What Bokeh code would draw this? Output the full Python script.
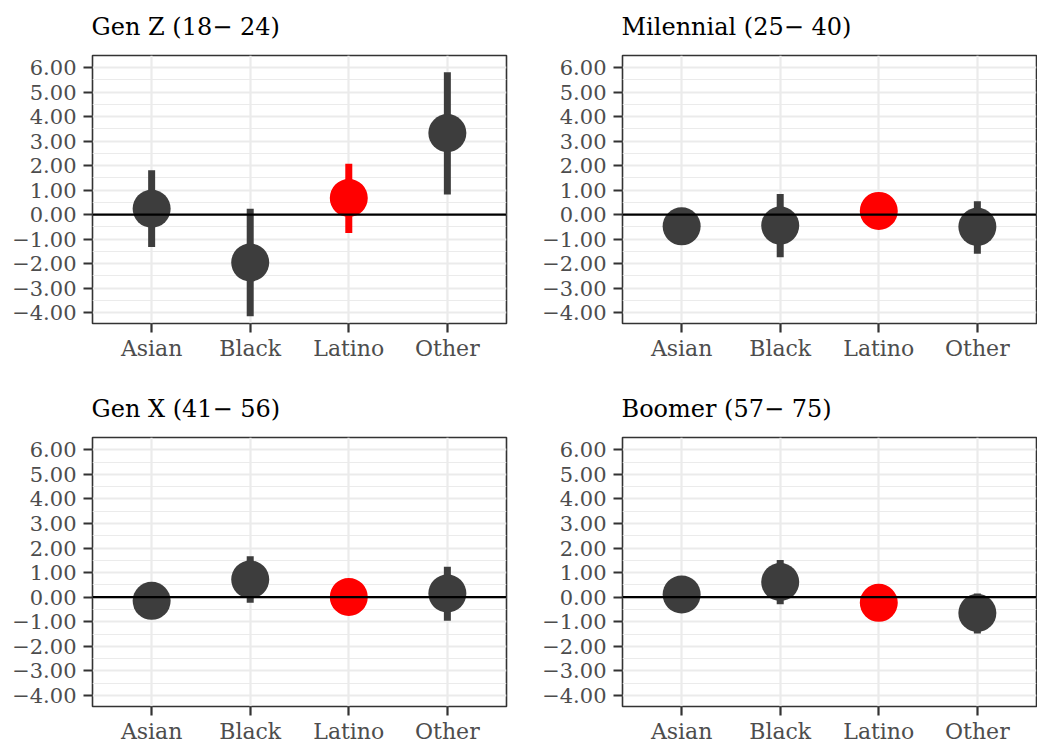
from bokeh.plotting import figure
from bokeh.layouts import gridplot
from bokeh.models import FactorRange, Range1d, FixedTicker, Span, ColumnDataSource
from bokeh.embed import file_html
from bokeh.resources import INLINE

categories = ["Asian", "Black", "Latino", "Other"]
titles = ["Gen Z (18\u2212 24)", "Milennial (25\u2212 40)", "Gen X (41\u2212 56)", "Boomer (57\u2212 75)"]

est_genz = [0.24, -1.96, 0.68, 3.33]
lo_genz = [-1.32, -4.15, -0.75, 0.82]
hi_genz = [1.81, 0.24, 2.08, 5.82]

est_mill = [-0.48, -0.45, 0.15, -0.50]
lo_mill = [-1.05, -1.74, -0.45, -1.60]
hi_mill = [0.10, 0.84, 0.70, 0.54]

est_genx = [-0.15, 0.72, 0.01, 0.15]
lo_genx = [-0.75, -0.23, -0.55, -0.96]
hi_genx = [0.45, 1.67, 0.55, 1.24]

est_boom = [0.11, 0.62, -0.23, -0.64]
lo_boom = [-0.50, -0.29, -0.80, -1.48]
hi_boom = [0.70, 1.51, 0.35, 0.15]

y_ticks = [-4, -3, -2, -1, 0, 1, 2, 3, 4, 5, 6]
y_minor = [-3.5, -2.5, -1.5, -0.5, 0.5, 1.5, 2.5, 3.5, 4.5, 5.5]
y_labels = {t: ("\u2212" + f"{abs(t):.2f}" if t < 0 else f"{t:.2f}") for t in y_ticks}

DARK = "#3d3d3d"
RED = "#ff0000"
FONT = "DejaVu Serif"

series = [
    (est_genz, lo_genz, hi_genz),
    (est_mill, lo_mill, hi_mill),
    (est_genx, lo_genx, hi_genx),
    (est_boom, lo_boom, hi_boom),
]

layout_cfg = [
    # (left, right, top, bottom, plot_w, plot_h)
    (92, 14, 55, 57, 414, 268),
    (102, 1, 55, 57, 414, 268),
    (92, 14, 57, 44, 414, 269),
    (102, 1, 57, 44, 414, 269),
]

figs = []
for i, ((est, lo, hi), title) in enumerate(zip(series, titles)):
    l, r, t, b, pw, ph = layout_cfg[i]
    p = figure(
        x_range=FactorRange(factors=categories, range_padding=0.1, range_padding_units="absolute"),
        y_range=Range1d(-4.45, 6.5),
        width=l + pw + r, height=t + ph + b,
        min_border_left=l, min_border_right=r, min_border_top=t, min_border_bottom=b,
        output_backend="svg", toolbar_location=None, title=title,
    )
    p.title.text_font = FONT
    p.title.text_font_size = "24px"
    p.title.text_font_style = "normal"
    p.title.text_color = "#000000"
    p.title.offset = -1
    p.title.vertical_align = "top"
    p.title.standoff = 25

    colors = [RED if c == "Latino" else DARK for c in categories]
    src = ColumnDataSource(dict(x=categories, est=est, lo=lo, hi=hi, color=colors))

    p.segment(x0="x", y0="lo", x1="x", y1="hi", source=src, line_color="color",
              line_width=7, line_cap="butt")
    p.scatter(x="x", y="est", source=src, size=38, fill_color="color", line_color=None)
    p.add_layout(Span(location=0, dimension="width", line_color="black", line_width=2.2))

    p.background_fill_color = "white"
    p.border_fill_color = "white"
    p.outline_line_color = "#333333"
    p.outline_line_width = 1.6

    p.yaxis.ticker = FixedTicker(ticks=y_ticks, minor_ticks=y_minor)
    p.yaxis.major_label_overrides = y_labels
    for ax in (p.xaxis[0], p.yaxis[0]):
        ax.axis_line_color = None
        ax.major_tick_line_color = "#333333"
        ax.major_tick_line_width = 2.2
        ax.major_tick_out = 9
        ax.major_tick_in = 0
        ax.minor_tick_line_color = None
        ax.major_label_text_font = FONT
        ax.major_label_text_color = "#4d4d4d"
    p.yaxis.major_label_text_font_size = "21px"
    p.xaxis.major_label_text_font_size = "22px"
    p.yaxis.major_label_standoff = 7
    p.xaxis.major_label_standoff = 3

    p.ygrid.grid_line_color = "#ebebeb"
    p.ygrid.grid_line_width = 2.2
    p.ygrid.minor_grid_line_color = "#ebebeb"
    p.ygrid.minor_grid_line_width = 1.2
    p.xgrid.grid_line_color = "#ebebeb"
    p.xgrid.grid_line_width = 2.2
    figs.append(p)

grid = gridplot([[figs[0], figs[1]], [figs[2], figs[3]]], toolbar_location=None)

open("out.html", "w").write(file_html(grid, INLINE))
